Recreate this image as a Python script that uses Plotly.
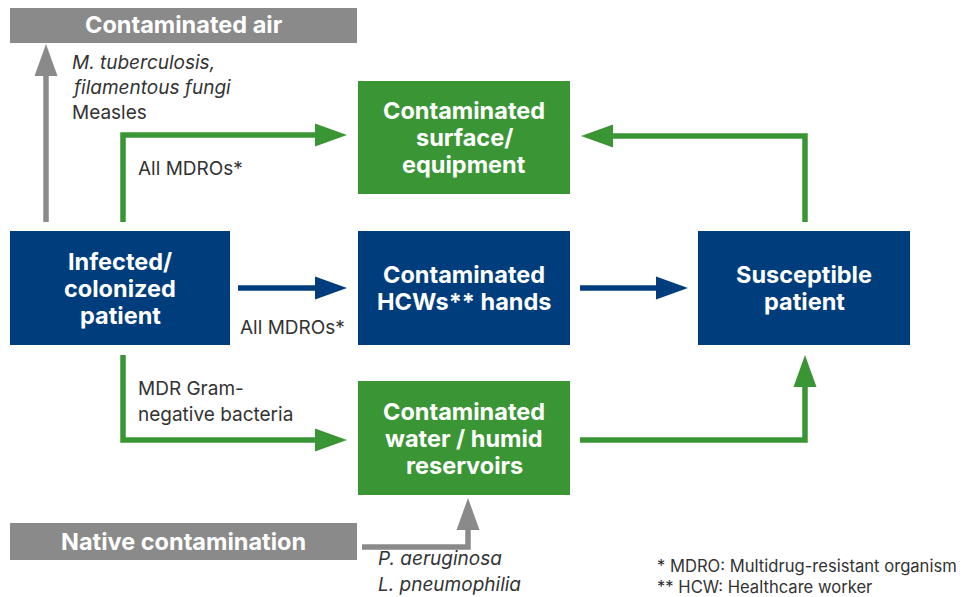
import plotly.graph_objects as go

# ---------------- data ----------------
node_names = ["air", "surface", "infected", "hands", "susceptible", "water", "native"]
node_lines = [
    ["Contaminated air"],
    ["Contaminated", "surface/", "equipment"],
    ["Infected/", "colonized", "patient"],
    ["Contaminated", "HCWs** hands"],
    ["Susceptible", "patient"],
    ["Contaminated", "water / humid", "reservoirs"],
    ["Native contamination"],
]
node_kind = ["gray", "green", "blue", "blue", "blue", "green", "gray"]

edge_from = ["infected", "infected", "infected", "infected", "hands", "susceptible", "water", "native"]
edge_to = ["air", "surface", "hands", "water", "susceptible", "surface", "susceptible", "water"]
edge_kind = ["gray", "green", "blue", "green", "blue", "green", "green", "gray"]

label_lines = [
    ("M. tuberculosis,", True), ("filamentous fungi", True), ("Measles", False),
    ("All MDROs*", False), ("All MDROs*", False),
    ("MDR Gram-", False), ("negative bacteria", False),
    ("P. aeruginosa", True), ("L. pneumophilia", True),
]
footnotes = ["* MDRO: Multidrug-resistant organism", "** HCW: Healthcare worker"]

# ---------------- layout / style ----------------
COL = {"blue": "#003d7c", "green": "#3a9634", "gray": "#8a8a8a"}
TXT = "#333333"
FONT = "Inter"
OFF = 8  # page body margin compensation

# boxes: x0, y0, x1, y1 (pixel space, y downward)
box_pos = {
    "air": (10, 6, 357, 43),
    "surface": (358, 81, 570, 194),
    "infected": (10, 231, 230, 345),
    "hands": (358, 231, 570, 345),
    "susceptible": (698, 231, 910, 345),
    "water": (358, 381, 570, 495),
    "native": (10, 523, 357, 560),
}
# arrow routes (last point is the tip)
routes = [
    [(46, 222), (46, 44)],
    [(123, 222), (123, 135), (347, 135)],
    [(238, 288), (347, 288)],
    [(123, 355), (123, 440), (347, 440)],
    [(580, 288), (688, 288)],
    [(805, 222), (805, 136), (581, 136)],
    [(580, 440), (805, 440), (805, 355)],
    [(362, 547), (468, 547), (468, 498)],
]
label_pos = [(70, 62), (70, 87), (70, 112), (136, 168), (238, 327),
             (136, 388), (136, 414), (376, 558), (376, 584)]
foot_pos = [(655, 566), (655, 587)]
LINE_GAP = 27
HEAD_LEN, HEAD_HALF, LW = 32, 11.5, 5.5

fig = go.Figure()
shapes, annots = [], []

for name, lines, kind in zip(node_names, node_lines, node_kind):
    x0, y0, x1, y1 = box_pos[name]
    shapes.append(dict(type="rect", xref="x", yref="y", x0=x0, y0=y0, x1=x1, y1=y1,
                       fillcolor=COL[kind], line=dict(width=0), layer="below"))
    cx, cy = (x0 + x1) / 2, (y0 + y1) / 2
    n = len(lines)
    for i, t in enumerate(lines):
        annots.append(dict(x=cx, y=cy + (i - (n - 1) / 2) * LINE_GAP, xref="x", yref="y",
                           text="<b>" + t + "</b>", showarrow=False, xanchor="center", yanchor="middle",
                           font=dict(family=FONT, size=23.5, color="white")))

for (src, dst, kind, pts) in zip(edge_from, edge_to, edge_kind, routes):
    (xa, ya), (xt, yt) = pts[-2], pts[-1]
    dx, dy = xt - xa, yt - ya
    L = (dx * dx + dy * dy) ** 0.5
    ux, uy = dx / L, dy / L
    bx, by = xt - ux * HEAD_LEN, yt - uy * HEAD_LEN
    line_pts = pts[:-1] + [(bx + ux * 2, by + uy * 2)]
    path = "M " + " L ".join(f"{x},{y}" for x, y in line_pts)
    shapes.append(dict(type="path", xref="x", yref="y", path=path,
                       line=dict(color=COL[kind], width=LW)))
    px, py = -uy, ux
    tri = (f"M {xt},{yt} L {bx + px * HEAD_HALF},{by + py * HEAD_HALF} "
           f"L {bx - px * HEAD_HALF},{by - py * HEAD_HALF} Z")
    shapes.append(dict(type="path", xref="x", yref="y", path=tri,
                       fillcolor=COL[kind], line=dict(width=0)))

for (t, ital), (x, y) in zip(label_lines, label_pos):
    txt = "<i>" + t + "</i>" if ital else t
    annots.append(dict(x=x, y=y, xref="x", yref="y", text=txt, showarrow=False,
                       xanchor="left", yanchor="middle",
                       font=dict(family=FONT, size=19, color=TXT)))

for t, (x, y) in zip(footnotes, foot_pos):
    annots.append(dict(x=x, y=y, xref="x", yref="y", text=t, showarrow=False,
                       xanchor="left", yanchor="middle",
                       font=dict(family=FONT, size=16.6, color=TXT)))

fig.update_layout(
    width=969, height=597, margin=dict(l=0, r=0, t=0, b=0),
    paper_bgcolor="white", plot_bgcolor="white",
    xaxis=dict(range=[OFF, 969 + OFF], visible=False, fixedrange=True),
    yaxis=dict(range=[597 + OFF, OFF], visible=False, fixedrange=True),
    shapes=shapes, annotations=annots, showlegend=False,
)
fig.write_html("out.html")
